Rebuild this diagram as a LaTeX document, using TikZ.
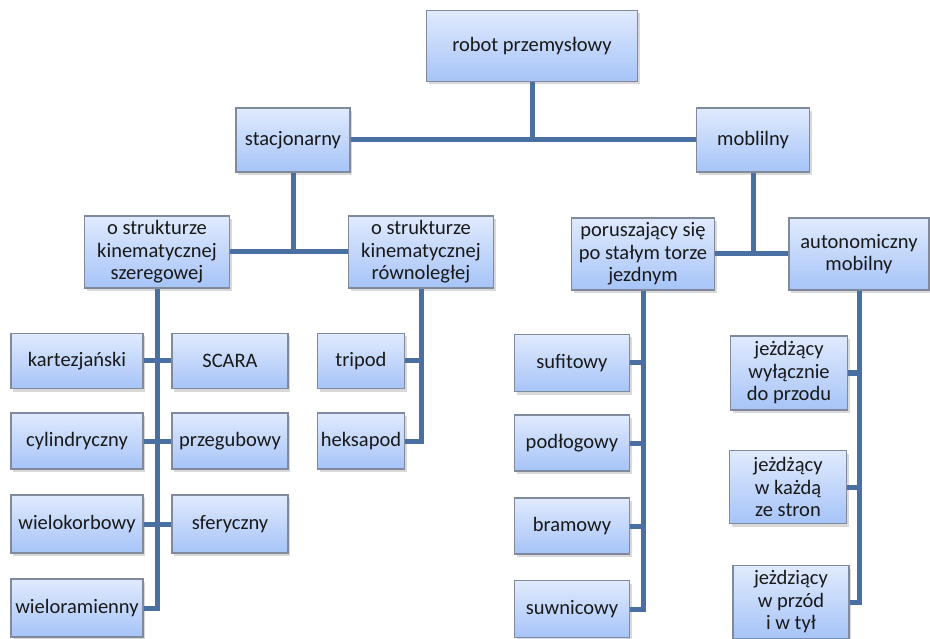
\documentclass[tikz,border=0pt]{standalone}
\usepackage{fontspec}
\setmainfont{Carlito}
\usepackage{tikz}
\usetikzlibrary{shadows, positioning}
\definecolor{boxtop}{RGB}{224,234,253}
\definecolor{boxbot}{RGB}{166,196,248}
\definecolor{boxline}{RGB}{128,138,156}
\definecolor{linkblue}{RGB}{74,112,163}

\begin{document}
\begin{tikzpicture}[
    x=1pt, y=-1pt,
    box/.style={rectangle, draw=boxline, line width=1.2pt, top color=boxtop, bottom color=boxbot, align=center, inner sep=1pt, text=black!90, font=\fontsize{20.5}{22.5}\selectfont, drop shadow={opacity=0.3, shadow xshift=2pt, shadow yshift=-3pt}},
    link/.style={draw=linkblue, line width=5pt}
]
\useasboundingbox (0,0) rectangle (930,639);

\node[box, minimum width=211pt, minimum height=71pt] (robot) at (532,46) {robot przemysłowy};
\node[box, minimum width=114pt, minimum height=64pt] (stac) at (293,140) {stacjonarny};
\node[box, minimum width=113pt, minimum height=64pt] (mob) at (753,140) {moblilny};
\node[box, minimum width=145pt, minimum height=72pt] (szer) at (157,252) {o strukturze\\kinematycznej\\szeregowej};
\node[box, minimum width=145pt, minimum height=72pt] (rown) at (421,252) {o strukturze\\kinematycznej\\równoległej};
\node[box, minimum width=143pt, minimum height=72pt] (por) at (643,254) {poruszający się\\po stałym torze\\jezdnym};
\node[box, minimum width=140pt, minimum height=72pt] (auto) at (859,254) {autonomiczny\\mobilny};

\node[box, minimum width=132pt, minimum height=55pt] (kart) at (77,361) {kartezjański};
\node[box, minimum width=116pt, minimum height=55pt] (scara) at (230,361) {SCARA};
\node[box, minimum width=132pt, minimum height=56pt] (cyl) at (77,441) {cylindryczny};
\node[box, minimum width=116pt, minimum height=56pt] (przeg) at (230,441) {przegubowy};
\node[box, minimum width=132pt, minimum height=58pt] (wielok) at (77,524) {wielokorbowy};
\node[box, minimum width=116pt, minimum height=58pt] (sfer) at (230,524) {sferyczny};
\node[box, minimum width=132pt, minimum height=58pt] (wielor) at (77,608) {wieloramienny};

\node[box, minimum width=87pt, minimum height=55pt] (trip) at (361,361) {tripod};
\node[box, minimum width=87pt, minimum height=56pt] (heks) at (361,441) {heksapod};

\node[box, minimum width=115pt, minimum height=57pt] (suf) at (572,363) {sufitowy};
\node[box, minimum width=115pt, minimum height=56pt] (podl) at (572,443) {podłogowy};
\node[box, minimum width=115pt, minimum height=56pt] (bram) at (572,526) {bramowy};
\node[box, minimum width=115pt, minimum height=57pt] (suwn) at (572,609) {suwnicowy};

\node[box, minimum width=117pt, minimum height=74pt] (jwyl) at (789,373) {jeżdżący\\wyłącznie\\do przodu};
\node[box, minimum width=117pt, minimum height=73pt] (jkaz) at (788,487) {jeżdżący\\w każdą\\ze stron};
\node[box, minimum width=116pt, minimum height=73pt] (jprz) at (791,602) {jeżdziący\\w przód\\i w tył};

\draw[link] (robot.south) -- (robot.south |- stac.east);
\draw[link] (stac.east) -- (mob.west);
\draw[link] (stac.south) -- (stac.south |- szer.east);
\draw[link] (szer.east) -- (rown.west);
\draw[link] (mob.south) -- (mob.south |- por.east);
\draw[link] (por.east) -- (auto.west);

\draw[link] (szer.south) |- (wielor.east);
\draw[link] (kart.east) -- (scara.west);
\draw[link] (cyl.east) -- (przeg.west);
\draw[link] (wielok.east) -- (sfer.west);

\draw[link] (rown.south) |- (heks.east);
\draw[link] (trip.east) -- (trip.east -| rown.south);

\draw[link] (por.south) |- (suwn.east);
\draw[link] (suf.east) -- (suf.east -| por.south);
\draw[link] (podl.east) -- (podl.east -| por.south);
\draw[link] (bram.east) -- (bram.east -| por.south);

\draw[link] (auto.south) |- (jprz.east);
\draw[link] (jwyl.east) -- (jwyl.east -| auto.south);
\draw[link] (jkaz.east) -- (jkaz.east -| auto.south);

\end{tikzpicture}
\end{document}
